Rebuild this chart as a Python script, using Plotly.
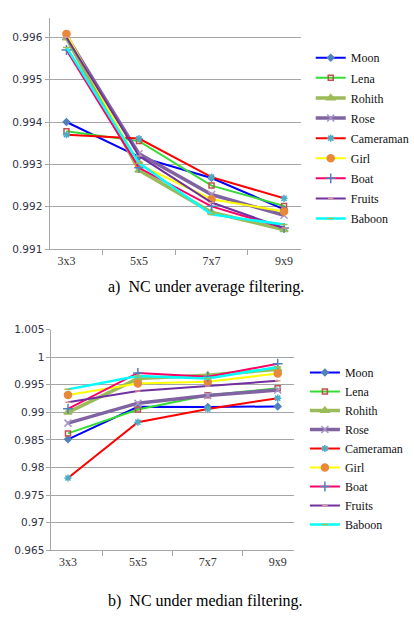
import plotly.graph_objects as go

categories = ["3x3", "5x5", "7x7", "9x9"]
series_names = ["Moon", "Lena", "Rohith", "Rose", "Cameraman", "Girl", "Boat", "Fruits", "Baboon"]

# a) NC under average filtering
avg_moon = [0.99400, 0.99318, 0.99268, 0.99194]
avg_lena = [0.99378, 0.99355, 0.99250, 0.99202]
avg_rohith = [0.99598, 0.99286, 0.99187, 0.99146]
avg_rose = [0.99603, 0.99325, 0.99229, 0.99180]
avg_cameraman = [0.99370, 0.99361, 0.99270, 0.99220]
avg_girl = [0.99608, 0.99300, 0.99218, 0.99189]
avg_boat = [0.99570, 0.99292, 0.99201, 0.99150]
avg_fruits = [0.99600, 0.99320, 0.99210, 0.99150]
avg_baboon = [0.99576, 0.99303, 0.99182, 0.99158]

# b) NC under median filtering
med_moon = [0.98511, 0.99100, 0.99095, 0.99107]
med_lena = [0.98618, 0.99050, 0.99310, 0.99435]
med_rohith = [0.99000, 0.99612, 0.99673, 0.99780]
med_rose = [0.98804, 0.99166, 0.99304, 0.99405]
med_cameraman = [0.97809, 0.98821, 0.99060, 0.99256]
med_girl = [0.99314, 0.99523, 0.99554, 0.99702]
med_boat = [0.99064, 0.99714, 0.99643, 0.99881]
med_fruits = [0.99184, 0.99386, 0.99476, 0.99571]
med_baboon = [0.99416, 0.99660, 0.99613, 0.99821]

avg_values = [avg_moon, avg_lena, avg_rohith, avg_rose, avg_cameraman,
              avg_girl, avg_boat, avg_fruits, avg_baboon]
med_values = [med_moon, med_lena, med_rohith, med_rose, med_cameraman,
              med_girl, med_boat, med_fruits, med_baboon]

styles = [
    dict(lc="#0000FF", lw=2, sym="diamond", mc="#4F81BD", ms=5),
    dict(lc="#33DD33", lw=2, sym="square-open", mc="#C0504D", ms=5),
    dict(lc="#9BBB59", lw=3.5, sym="triangle-up", mc="#9BBB59", ms=7),
    dict(lc="#8064A2", lw=3.5, sym="x-thin-open", mc="#A894C8", ms=7),
    dict(lc="#FF0000", lw=2, sym="asterisk-open", mc="#4BACC6", ms=6),
    dict(lc="#FFFF00", lw=2, sym="circle", mc="#E8883A", ms=7),
    dict(lc="#FF0066", lw=2, sym="cross-thin-open", mc="#4F81BD", ms=7),
    dict(lc="#7030A0", lw=2, sym="line-ew-open", mc="#D99694", ms=4),
    dict(lc="#00FFFF", lw=2.5, sym="line-ew-open", mc="#9BBB59", ms=5),
]

fig = go.Figure()

for i, name in enumerate(series_names):
    s = styles[i]
    fig.add_trace(go.Scatter(
        x=categories, y=avg_values[i], name=name, mode="lines+markers",
        line=dict(color=s["lc"], width=s["lw"]),
        marker=dict(symbol=s["sym"], color=s["mc"], size=s["ms"],
                    line=dict(color=s["mc"], width=1.5)),
        xaxis="x", yaxis="y", legend="legend", legendgroup="a%d" % i))

for i, name in enumerate(series_names):
    s = styles[i]
    fig.add_trace(go.Scatter(
        x=categories, y=med_values[i], name=name, mode="lines+markers",
        line=dict(color=s["lc"], width=s["lw"]),
        marker=dict(symbol=s["sym"], color=s["mc"], size=s["ms"],
                    line=dict(color=s["mc"], width=1.5)),
        xaxis="x2", yaxis="y2", legend="legend2", legendgroup="b%d" % i))

W, H = 414, 617
grid = "#A6A6A6"
tickfont_y = dict(family="DejaVu Sans", size=10.5, color="#333344")
tickfont_x = dict(family="Liberation Serif", size=12, color="#333333")

xcommon = dict(type="category", tickson="boundaries", ticks="outside", ticklen=5,
               tickcolor=grid, showline=True, linecolor=grid, linewidth=1,
               showgrid=False, tickfont=tickfont_x, fixedrange=True)
ycommon = dict(ticks="outside", ticklen=4, tickcolor=grid, showline=True,
               linecolor=grid, linewidth=1, showgrid=True, gridcolor=grid,
               gridwidth=1, tickfont=tickfont_y, zeroline=False)

fig.update_layout(
    width=W, height=H,
    margin=dict(l=0, r=0, t=0, b=0),
    paper_bgcolor="white", plot_bgcolor="white",
    xaxis=dict(domain=[51 / W, 310 / W], anchor="y", **xcommon),
    yaxis=dict(domain=[(H - 248) / H, (H - 12) / H], anchor="x",
               range=[0.991, 0.99646], dtick=0.001, tick0=0.991,
               tickformat=".3f", **ycommon),
    xaxis2=dict(domain=[53 / W, 303 / W], anchor="y2", **xcommon),
    yaxis2=dict(domain=[(H - 555) / H, (H - 330) / H], anchor="x2",
                range=[0.965, 1.005], dtick=0.005, tick0=0.965,
                tickformat="~r", **ycommon),
    legend=dict(x=320 / W, y=(H - 38) / H, xanchor="left", yanchor="top",
                font=dict(family="Liberation Serif", size=12, color="#111111"),
                bgcolor="rgba(0,0,0,0)", itemwidth=30, tracegroupgap=1.1),
    legend2=dict(x=314 / W, y=(H - 359) / H, xanchor="left", yanchor="top",
                 font=dict(family="Liberation Serif", size=12, color="#111111"),
                 bgcolor="rgba(0,0,0,0)", itemwidth=30, tracegroupgap=0),
    annotations=[
        dict(text="a)  NC under average filtering.", x=212 / W, y=(H - 287) / H,
             xref="paper", yref="paper", showarrow=False, xanchor="center",
             yanchor="middle", font=dict(family="Liberation Serif", size=16, color="#000000")),
        dict(text="b)  NC under median filtering.", x=212 / W, y=(H - 607) / H,
             xref="paper", yref="paper", showarrow=False, xanchor="center",
             yanchor="middle", font=dict(family="Liberation Serif", size=16, color="#000000")),
    ],
    showlegend=True,
)

fig.write_html("out.html", config={"displayModeBar": False},
               post_script="document.body.style.margin='0';document.body.style.overflow='hidden';")
